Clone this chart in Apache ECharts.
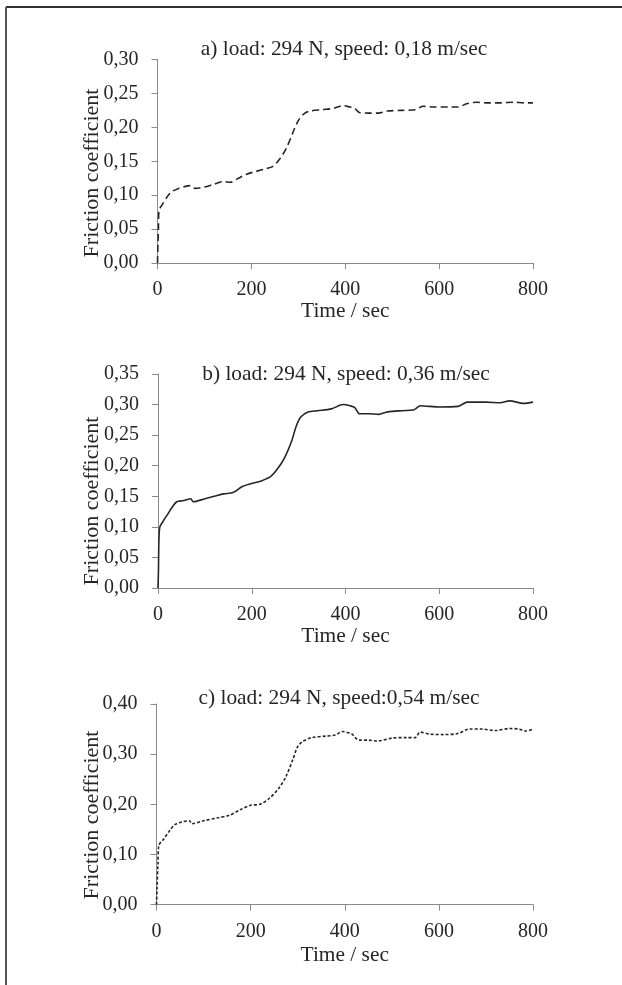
<!DOCTYPE html>
<html>
<head>
<meta charset="utf-8">
<script src="https://cdn.jsdelivr.net/npm/echarts@6/dist/echarts.min.js"></script>
<style>html,body{margin:0;padding:0;background:#fff}#c{width:622px;height:985px}</style>
</head>
<body>
<div id="c"></div>
<script>
var titles = [
  'a) load: 294 N, speed: 0,18 m/sec',
  'b) load: 294 N, speed: 0,36 m/sec',
  'c) load: 294 N, speed:0,54 m/sec'
];
var xName = 'Time / sec';
var yName = 'Friction coefficient';
var xTicks = [0, 200, 400, 600, 800];
var yMaxes = [0.30, 0.35, 0.40];
var yIntervals = [0.05, 0.05, 0.10];

var timesA = [0,1,2,3,10,20,30,45,60,70,80,100,120,140,155,170,190,210,230,245,260,275,290,300,312,325,350,375,395,410,420,430,450,470,490,520,550,565,590,620,640,660,680,700,730,760,780,800];
var valuesA = [0,0.03,0.05,0.077,0.086,0.097,0.105,0.110,0.113,0.114,0.110,0.112,0.116,0.120,0.119,0.124,0.131,0.135,0.139,0.142,0.153,0.170,0.195,0.210,0.220,0.224,0.226,0.228,0.232,0.230,0.228,0.222,0.221,0.221,0.224,0.225,0.226,0.231,0.230,0.230,0.230,0.235,0.237,0.236,0.236,0.237,0.236,0.236];

var timesB = [0,1,2,4,10,20,30,40,55,70,75,100,120,140,160,180,200,220,240,255,270,285,295,305,320,340,370,395,410,420,430,450,470,490,520,545,560,580,600,640,660,700,730,750,780,800];
var valuesB = [0,0.03,0.08,0.100,0.108,0.120,0.132,0.141,0.143,0.146,0.141,0.146,0.150,0.154,0.156,0.166,0.171,0.175,0.182,0.195,0.213,0.240,0.265,0.280,0.288,0.290,0.293,0.300,0.298,0.295,0.285,0.285,0.284,0.288,0.290,0.291,0.298,0.297,0.296,0.297,0.304,0.304,0.303,0.306,0.302,0.304];

var timesC = [0,1,3,5,15,30,40,55,70,75,100,130,155,180,200,220,240,260,275,290,300,310,330,360,380,395,415,430,450,470,500,530,550,560,580,610,640,665,690,720,750,770,785,800];
var valuesC = [0,0.03,0.08,0.118,0.130,0.150,0.160,0.165,0.167,0.161,0.167,0.173,0.178,0.190,0.198,0.200,0.212,0.232,0.255,0.290,0.315,0.325,0.333,0.336,0.338,0.345,0.340,0.328,0.328,0.326,0.332,0.333,0.333,0.344,0.340,0.339,0.341,0.350,0.350,0.347,0.351,0.350,0.346,0.350];

function pairs(ts, vs) { return ts.map(function (t, i) { return [t, vs[i]]; }); }

var font = 'Liberation Serif';
var ink = '#262626';
var axisGray = '#8a8a8a';

var grids = [
  {left: 157.5, width: 375.5, top: 59.5, height: 203.5},
  {left: 158, width: 375, top: 374, height: 214},
  {left: 156.5, width: 376.5, top: 704, height: 200.5}
];
var titleXY = [[344, 49], [346, 374], [339, 698]];
var yNameXY = [[92, 173], [92, 501], [92, 815]];
var xNameGap = [37, 37, 40];
var dashTypes = [[7, 4], 'solid', [3, 2]];
var seriesData = [pairs(timesA, valuesA), pairs(timesB, valuesB), pairs(timesC, valuesC)];

function txt(x, y, text, size, rot) {
  return {
    type: 'text', x: x, y: y, rotation: rot || 0, silent: true,
    style: {text: text, fontFamily: font, fontSize: size, fill: ink,
      align: 'center', verticalAlign: 'middle', textAlign: 'center', textVerticalAlign: 'middle'}
  };
}

var graphics = [
  {type: 'line', shape: {x1: 6, y1: 7, x2: 622, y2: 7}, style: {stroke: '#333', lineWidth: 2}},
  {type: 'line', shape: {x1: 6, y1: 7, x2: 6, y2: 985}, style: {stroke: '#555', lineWidth: 2}}
];
titles.forEach(function (t, i) { graphics.push(txt(titleXY[i][0], titleXY[i][1], t, 21.4, 0)); });
yNameXY.forEach(function (p) { graphics.push(txt(p[0], p[1], yName, 22, Math.PI / 2)); });

var option = {
  animation: false,
  backgroundColor: '#fff',
  grid: grids.map(function (g) { return Object.assign({containLabel: false}, g); }),
  xAxis: grids.map(function (g, i) {
    return {
      type: 'value', gridIndex: i, min: xTicks[0], max: xTicks[xTicks.length - 1], interval: 200,
      name: xName, nameLocation: 'middle', nameGap: xNameGap[i],
      nameTextStyle: {fontFamily: font, fontSize: 21.4, color: ink},
      axisLine: {lineStyle: {color: axisGray, width: 1}},
      axisTick: {show: true, length: 6, lineStyle: {color: axisGray}},
      axisLabel: {fontFamily: font, fontSize: 20, color: ink, margin: 17},
      splitLine: {show: false}
    };
  }),
  yAxis: grids.map(function (g, i) {
    return {
      type: 'value', gridIndex: i, min: 0, max: yMaxes[i], interval: yIntervals[i],
      axisLine: {show: true, lineStyle: {color: axisGray, width: 1}},
      axisTick: {show: true, length: 6, lineStyle: {color: axisGray}},
      axisLabel: {fontFamily: font, fontSize: 20, color: ink, margin: 19,
        formatter: function (v) { return v.toFixed(2).replace('.', ','); }},
      splitLine: {show: false}
    };
  }),
  series: seriesData.map(function (d, i) {
    return {
      type: 'line', xAxisIndex: i, yAxisIndex: i, data: d, showSymbol: false,
      smooth: 0.3,
      lineStyle: {color: ink, width: 1.6, type: dashTypes[i]}
    };
  }),
  graphic: graphics
};

var chart = echarts.init(document.getElementById('c'), null, {renderer: 'canvas'});
chart.setOption(option);
</script>
</body>
</html>
